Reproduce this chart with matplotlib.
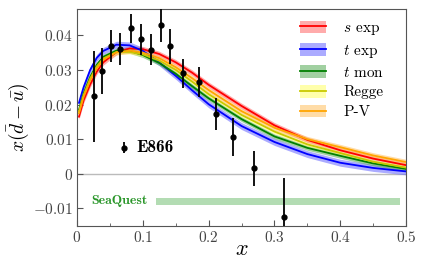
import numpy as np
import matplotlib
matplotlib.use("Agg")
import matplotlib.pyplot as plt
from matplotlib.patches import Patch
from matplotlib.lines import Line2D
from matplotlib.ticker import FuncFormatter, MultipleLocator

plt.rcParams['mathtext.fontset'] = 'cm'
plt.rcParams['axes.unicode_minus'] = False

# -----------------------------
# Model curves x(dbar - ubar)
# -----------------------------
x_grid = [0.003, 0.01, 0.02, 0.03, 0.04, 0.06, 0.08, 0.10, 0.125, 0.15, 0.175,
          0.20, 0.25, 0.30, 0.35, 0.40, 0.45, 0.50]

s_exp  = [0.0165, 0.0212, 0.0258, 0.0295, 0.0322, 0.0352, 0.0362, 0.0360, 0.0346, 0.0322, 0.0292,
          0.0257, 0.0196, 0.0140, 0.0098, 0.0068, 0.0044, 0.0025]
t_exp  = [0.0205, 0.0250, 0.0300, 0.0335, 0.0355, 0.0373, 0.0371, 0.0355, 0.0322, 0.0283, 0.0241,
          0.0201, 0.0138, 0.0092, 0.0057, 0.0032, 0.0017, 0.0007]
t_mon  = [0.0185, 0.0232, 0.0280, 0.0315, 0.0338, 0.0356, 0.0355, 0.0343, 0.0320, 0.0289, 0.0253,
          0.0218, 0.0158, 0.0108, 0.0075, 0.0052, 0.0030, 0.0014]
regge  = [0.0180, 0.0227, 0.0275, 0.0310, 0.0333, 0.0352, 0.0352, 0.0345, 0.0327, 0.0300, 0.0266,
          0.0230, 0.0170, 0.0122, 0.0085, 0.0060, 0.0035, 0.0018]
pv     = [0.0175, 0.0222, 0.0270, 0.0305, 0.0330, 0.0351, 0.0356, 0.0350, 0.0334, 0.0308, 0.0276,
          0.0242, 0.0181, 0.0133, 0.0100, 0.0077, 0.0053, 0.0034]

band_halfwidth = [0.0008, 0.0010, 0.0007, 0.0006, 0.0008]

model_labels = [r'$s$ exp', r'$t$ exp', r'$t$ mon', 'Regge', 'P-V']

# -----------------------------
# E866 data points
# -----------------------------
e866_x   = [0.026, 0.038, 0.052, 0.066, 0.082, 0.097, 0.112, 0.127, 0.142, 0.161,
            0.186, 0.211, 0.237, 0.269, 0.315]
e866_y   = [0.0224, 0.0297, 0.0369, 0.0360, 0.0420, 0.0388, 0.0359, 0.0430, 0.0368, 0.0290,
            0.0265, 0.0173, 0.0107, 0.0016, -0.0126]
e866_err = [0.0132, 0.0065, 0.0045, 0.0046, 0.0042, 0.0044, 0.0045, 0.0048, 0.0050, 0.0043,
            0.0043, 0.0046, 0.0055, 0.0051, 0.0114]

# SeaQuest projected coverage
seaquest_x = [0.12, 0.49]
seaquest_y = [-0.0090, -0.0070]

# -----------------------------
# Plot
# -----------------------------
fig = plt.figure(figsize=(4.24, 2.65), dpi=100)
ax = fig.add_axes([0.1816, 0.148, 0.7763, 0.818])

line_colors = ['#ff0000', '#0000ff', '#008000', '#c8c800', '#ffa500']
band_colors = ['#ff6666', '#6666ff', '#55aa55', '#ffff66', '#ffc060']
curves = [s_exp, t_exp, t_mon, regge, pv]

ax.axhline(0, color='#bbbbbb', lw=1.0, zorder=1)

handles = []
for yv, hw, lc, bc in zip(curves, band_halfwidth, line_colors, band_colors):
    yv = np.array(yv)
    ax.fill_between(x_grid, yv - hw, yv + hw, color=bc, alpha=0.55, lw=0, zorder=2)
    ax.plot(x_grid, yv, color=lc, lw=1.3, zorder=3)
    handles.append((Patch(facecolor=bc, alpha=0.55, edgecolor='none'),
                    Line2D([], [], color=lc, lw=1.3)))

ax.errorbar(e866_x, e866_y, yerr=e866_err, fmt='o', color='black', ms=3.5,
            elinewidth=1.3, capsize=0, zorder=5)

# legend marker for E866
ax.errorbar([0.0714], [0.0075], yerr=[0.0016], fmt='o', color='black', ms=3.5,
            elinewidth=1.3, capsize=0, zorder=5)
ax.text(0.090, 0.0075, 'E866', fontname='cmb10', fontsize=12.5, va='center', ha='left')

ax.fill_between(seaquest_x, seaquest_y[0], seaquest_y[1], color='#b3dcb3', lw=0, zorder=2)
ax.text(0.022, -0.0078, 'SeaQuest', fontname='cmb10', color='#2a962a', fontsize=10,
        va='center', ha='left')

ax.legend(handles, model_labels, loc='upper right', frameon=False,
          prop={'family': 'cmr10', 'size': 11},
          handlelength=1.7, handleheight=0.9, handletextpad=1.1, labelspacing=0.35,
          bbox_to_anchor=(0.975, 1.01))

ax.set_xlim(0, 0.5)
ax.set_ylim(-0.015, 0.0476)
ax.xaxis.set_major_locator(MultipleLocator(0.1))
ax.xaxis.set_minor_locator(MultipleLocator(0.05))
ax.yaxis.set_major_locator(MultipleLocator(0.01))
fmt = FuncFormatter(lambda v, p: r'$%g$' % round(v, 4))
ax.xaxis.set_major_formatter(fmt)
ax.yaxis.set_major_formatter(fmt)
ax.tick_params(direction='in', which='both', labelsize=11, colors='#555555',
               labelcolor='#444444', pad=3)
ax.tick_params(which='major', length=4)
ax.tick_params(which='minor', length=2.5)
for sp in ax.spines.values():
    sp.set_color('#555555')

ax.set_xlabel(r'$x$', fontsize=16)
ax.xaxis.set_label_coords(0.5, -0.06)
ax.set_ylabel(r'$x(\bar{d}-\bar{u})$', fontsize=14)
ax.yaxis.set_label_coords(-0.14, 0.5)

fig.savefig('out.png', dpi=100)
